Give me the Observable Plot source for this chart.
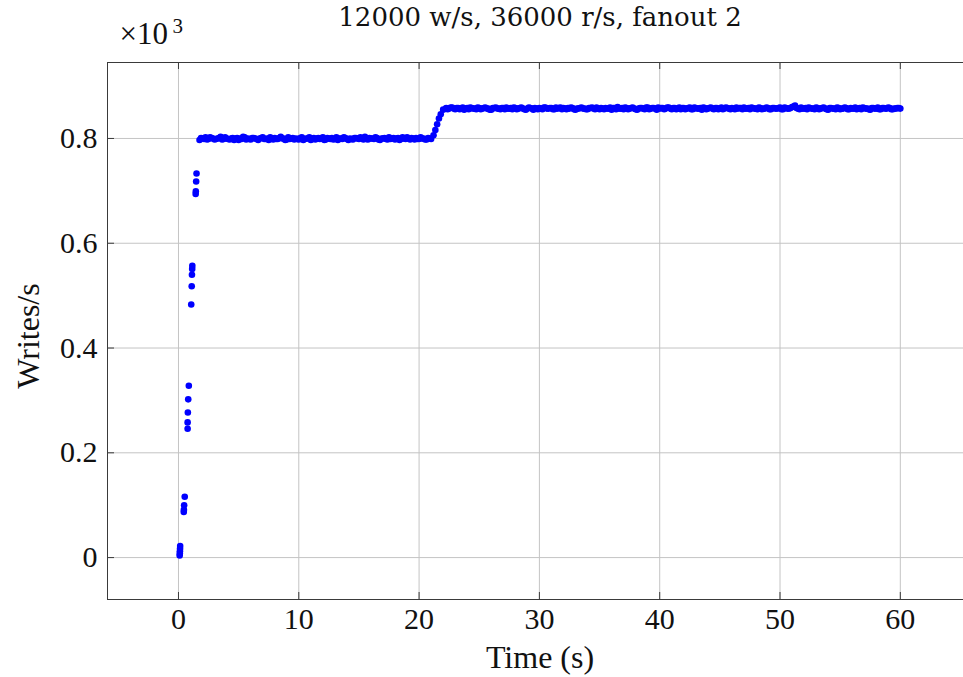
<!DOCTYPE html>
<html>
<head>
<meta charset="utf-8">
<script src="https://cdn.jsdelivr.net/npm/d3@7"></script>
<script src="https://cdn.jsdelivr.net/npm/@observablehq/plot@0.6"></script>
<style>
  html, body { margin: 0; padding: 0; background: white; overflow: hidden; }
  #chart svg { overflow: hidden; display: block; }
</style>
</head>
<body>
<div id="chart"></div>
<script>
// ---- Data (writes/s in thousands) ----
const title = "12000 w/s, 36000 r/s, fanout 2";
const xLabel = "Time (s)";
const yLabel = "Writes/s";
const xTicks = [0, 10, 20, 30, 40, 50, 60];
const xTickLabels = ["0", "10", "20", "30", "40", "50", "60"];
const yTicks = [0, 0.2, 0.4, 0.6, 0.8];
const yTickLabels = ["0", "0.2", "0.4", "0.6", "0.8"];

// start-up ramp
const rampTimes = [0.10, 0.11, 0.12, 0.13, 0.14,
                   0.44, 0.45, 0.47, 0.52,
                   0.76, 0.76, 0.78, 0.81, 0.86,
                   1.06, 1.10, 1.12, 1.14, 1.15,
                   1.43, 1.44, 1.47, 1.50];
const rampWrites = [0.004, 0.008, 0.012, 0.017, 0.022,
                    0.087, 0.091, 0.100, 0.116,
                    0.246, 0.258, 0.277, 0.302, 0.328,
                    0.483, 0.518, 0.540, 0.551, 0.557,
                    0.694, 0.699, 0.718, 0.733];

const sampleInterval = 0.25;

// first plateau, sampled every 0.25 s from 1.75 s (two interleaved sample sets)
const plateau1Start = 1.75;
const plateau1Writes = [
  0.797,0.800,0.802,0.799,0.801,0.798,0.800,0.803,0.799,0.800,
  0.798,0.801,0.800,0.797,0.799,0.802,0.800,0.798,0.801,0.799,
  0.800,0.802,0.799,0.797,0.800,0.801,0.799,0.803,0.800,0.798,
  0.799,0.801,0.800,0.798,0.802,0.799,0.800,0.797,0.801,0.800,
  0.799,0.802,0.798,0.800,0.801,0.799,0.797,0.800,0.802,0.799,
  0.800,0.798,0.801,0.799,0.800,0.803,0.798,0.800,0.799,0.801,
  0.797,0.800,0.799,0.802,0.800,0.798,0.801,0.799,0.800,0.802,
  0.798,0.800,0.801,0.799,0.800,0.798,0.801,0.799
];
const plateau1bStart = 1.875;
const plateau1bWrites = [
  0.801,0.799,0.798,0.802,0.800,0.799,0.801,0.798,0.802,0.799,
  0.800,0.797,0.801,0.800,0.803,0.798,0.799,0.801,0.800,0.797,
  0.801,0.799,0.800,0.802,0.798,0.799,0.801,0.800,0.797,0.802,
  0.800,0.798,0.799,0.801,0.797,0.800,0.802,0.799,0.798,0.801,
  0.800,0.797,0.801,0.799,0.798,0.802,0.800,0.799,0.801,0.797,
  0.799,0.801,0.800,0.802,0.798,0.799,0.801,0.800,0.802,0.798,
  0.800,0.801,0.798,0.799,0.801,0.800,0.797,0.802,0.799,0.800,
  0.801,0.798,0.799,0.802,0.800,0.798,0.800
];

// step up around 21 s
const stepTimes = [21.20, 21.35, 21.50, 21.65, 21.80, 22.00];
const stepWrites = [0.806, 0.816, 0.827, 0.838, 0.846, 0.855];

// second plateau, sampled every 0.25 s from 22.25 s (two interleaved sample sets)
const plateau2Start = 22.25;
const plateau2Writes = [
  0.858,0.857,0.859,0.856,0.858,0.857,0.855,0.858,0.859,0.857,
  0.856,0.858,0.857,0.859,0.857,0.855,0.858,0.857,0.856,0.858,
  0.859,0.857,0.856,0.858,0.857,0.859,0.856,0.857,0.858,0.855,
  0.857,0.858,0.856,0.859,0.857,0.858,0.856,0.857,0.859,0.858,
  0.856,0.857,0.858,0.855,0.857,0.859,0.857,0.856,0.858,0.857,
  0.859,0.856,0.857,0.858,0.857,0.855,0.858,0.860,0.857,0.856,
  0.858,0.857,0.859,0.856,0.857,0.858,0.856,0.859,0.857,0.858,
  0.855,0.857,0.858,0.857,0.859,0.856,0.858,0.857,0.856,0.858,
  0.857,0.859,0.856,0.858,0.857,0.855,0.858,0.857,0.859,0.856,
  0.858,0.857,0.856,0.859,0.857,0.858,0.856,0.857,0.858,0.859,
  0.857,0.856,0.858,0.857,0.859,0.856,0.857,0.858,0.856,0.858,
  0.857,0.859,0.856,0.858,0.857,0.860,0.863,0.857,0.859,0.857,
  0.856,0.858,0.857,0.859,0.856,0.858,0.857,0.855,0.858,0.857,
  0.859,0.856,0.857,0.858,0.856,0.857,0.859,0.857,0.856,0.858,
  0.857,0.855,0.858,0.857,0.856,0.858,0.857,0.859,0.856,0.857,
  0.858,0.857
];
const plateau2bStart = 22.375;
const plateau2bWrites = [
  0.856,0.859,0.857,0.858,0.856,0.859,0.857,0.856,0.858,0.857,
  0.859,0.856,0.858,0.857,0.855,0.858,0.859,0.857,0.858,0.856,
  0.857,0.858,0.859,0.856,0.858,0.857,0.855,0.859,0.857,0.858,
  0.856,0.857,0.859,0.857,0.858,0.856,0.859,0.858,0.856,0.857,
  0.858,0.859,0.856,0.857,0.858,0.857,0.856,0.858,0.859,0.856,
  0.857,0.858,0.856,0.857,0.859,0.858,0.856,0.857,0.858,0.859,
  0.856,0.858,0.857,0.855,0.858,0.857,0.859,0.856,0.858,0.857,
  0.859,0.858,0.856,0.859,0.857,0.858,0.856,0.859,0.858,0.856,
  0.858,0.856,0.859,0.857,0.858,0.859,0.856,0.858,0.857,0.858,
  0.856,0.859,0.857,0.858,0.856,0.857,0.859,0.858,0.856,0.857,
  0.858,0.859,0.857,0.856,0.858,0.857,0.859,0.856,0.858,0.857,
  0.858,0.856,0.859,0.857,0.858,0.861,0.858,0.856,0.857,0.858,
  0.859,0.857,0.856,0.858,0.857,0.859,0.856,0.858,0.857,0.856,
  0.858,0.857,0.859,0.856,0.858,0.857,0.856,0.858,0.859,0.857,
  0.856,0.858,0.857,0.859,0.856,0.858,0.857,0.858,0.856,0.857,
  0.858
];

// ---- Build table ----
const points = [];
rampTimes.forEach((t, i) => points.push({t, w: rampWrites[i]}));
plateau1Writes.forEach((w, i) => points.push({t: plateau1Start + i * sampleInterval, w}));
plateau1bWrites.forEach((w, i) => points.push({t: plateau1bStart + i * sampleInterval, w}));
stepTimes.forEach((t, i) => points.push({t, w: stepWrites[i]}));
plateau2Writes.forEach((w, i) => points.push({t: plateau2Start + i * sampleInterval, w}));
plateau2bWrites.forEach((w, i) => points.push({t: plateau2bStart + i * sampleInterval, w}));

// ---- Layout ----
const W = 963, H = 677;
const mL = 107, mT = 62, mB = 78, mR = -9;
const xDom = [-5.9, 66];
const yDom = [-0.08, 0.945];
const tickPx = 7;
const xUnit = (xDom[1] - xDom[0]) / (W - mR - mL);
const yUnit = (yDom[1] - yDom[0]) / (H - mB - mT);
const tlx = tickPx * xUnit, tly = tickPx * yUnit;

const gridColor = "#c4c4c4";
const axisColor = "#3a3a3a";
const serif = "'Liberation Serif', 'DejaVu Serif', serif";
const fs = 30;
const labelFs = 32;

const chart = Plot.plot({
  width: W, height: H,
  marginLeft: mL, marginRight: mR, marginTop: mT, marginBottom: mB,
  x: {domain: xDom, axis: null},
  y: {domain: yDom, axis: null},
  style: {fontFamily: serif, background: "white", overflow: "hidden"},
  marks: [
    // grid
    Plot.ruleX(xTicks, {x: d => d, stroke: gridColor, strokeWidth: 1}),
    Plot.ruleY(yTicks, {y: d => d, stroke: gridColor, strokeWidth: 1}),
    // inward ticks
    Plot.ruleX(xTicks, {x: d => d, y1: yDom[0], y2: yDom[0] + tly, stroke: axisColor}),
    Plot.ruleX(xTicks, {x: d => d, y1: yDom[1], y2: yDom[1] - tly, stroke: axisColor}),
    Plot.ruleY(yTicks, {y: d => d, x1: xDom[0], x2: xDom[0] + tlx, stroke: axisColor}),
    Plot.ruleY(yTicks, {y: d => d, x1: xDom[1], x2: xDom[1] - tlx, stroke: axisColor}),
    // frame
    Plot.frame({stroke: axisColor, strokeWidth: 1}),
    // data
    Plot.dot(points, {x: "t", y: "w", r: 3.3, fill: "#0000ff", stroke: "none"}),
    // tick labels
    Plot.text(xTicks, {x: d => d, frameAnchor: "bottom", dy: 29, lineAnchor: "bottom", textAnchor: "middle",
      text: (d, i) => xTickLabels[i], fontSize: fs, fill: "#111"}),
    Plot.text(yTicks, {y: d => d, frameAnchor: "left", dx: -10, textAnchor: "end", lineAnchor: "middle",
      text: (d, i) => yTickLabels[i], fontSize: fs, fill: "#111"}),
    // axis labels
    Plot.text([xLabel], {frameAnchor: "bottom", dy: 68, lineAnchor: "bottom", textAnchor: "middle",
      text: d => d, fontSize: labelFs, fill: "#111"}),
    Plot.text([yLabel], {frameAnchor: "left", dx: -69, dy: 5, rotate: -90, lineAnchor: "bottom", textAnchor: "middle",
      text: d => d, fontSize: labelFs, fill: "#111"}),
    // title
    Plot.text([title], {frameAnchor: "top", dy: -37, lineAnchor: "bottom", textAnchor: "middle", text: d => d,
      fontSize: 26, fontFamily: "'DejaVu Serif', serif", fill: "#111"}),
    // scale exponent
    Plot.text(["×10"], {frameAnchor: "top-left", dx: 12, dy: -19, textAnchor: "start", lineAnchor: "bottom",
      text: d => d, fontSize: 31, fill: "#111"}),
    Plot.text(["3"], {frameAnchor: "top-left", dx: 65, dy: -30, textAnchor: "start", lineAnchor: "bottom",
      text: d => d, fontSize: 21, fill: "#111"})
  ]
});
document.getElementById("chart").appendChild(chart);
</script>
</body>
</html>
